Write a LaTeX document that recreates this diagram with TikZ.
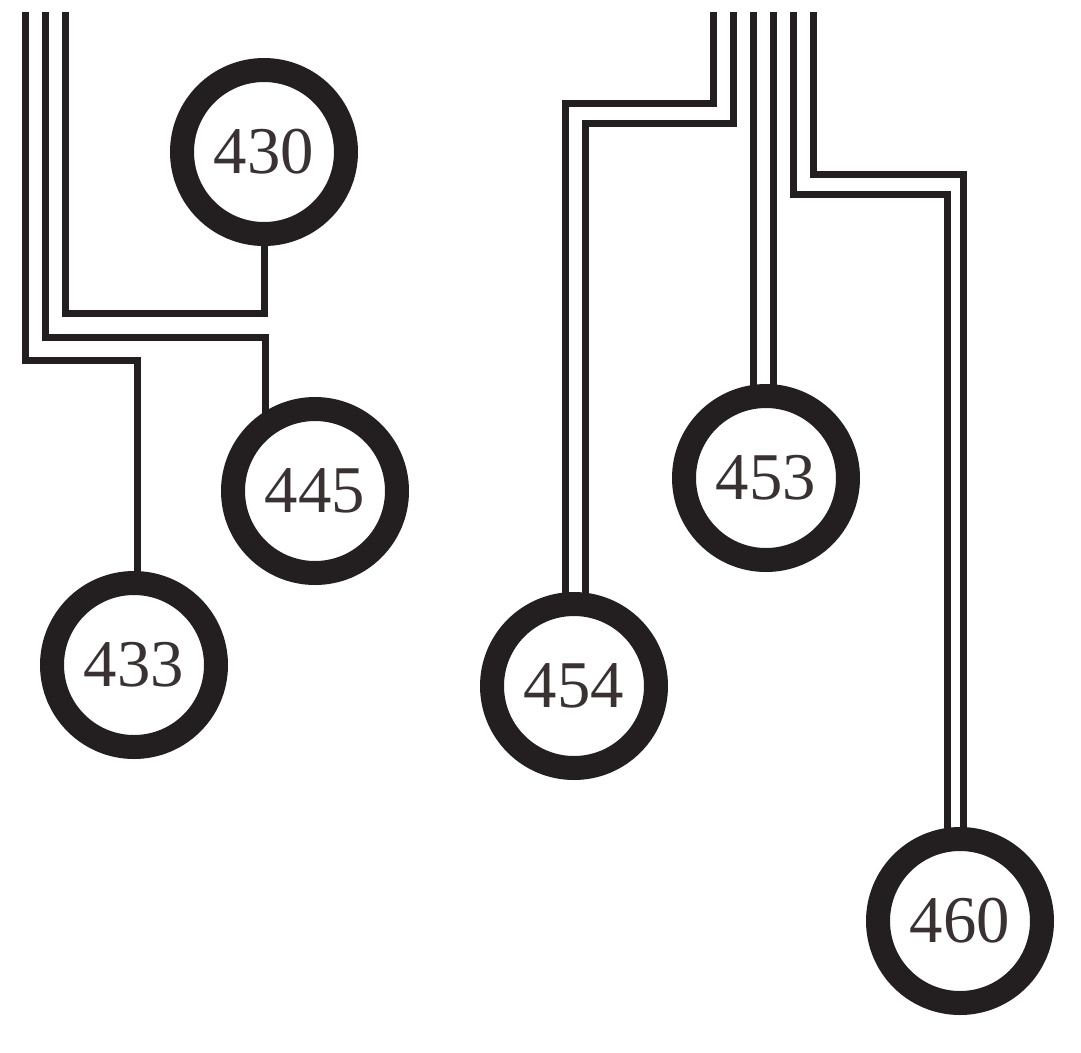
\documentclass[tikz,border=0pt]{standalone}
\usepackage{fontspec}
\setmainfont{Liberation Serif}

\definecolor{ink}{RGB}{35,31,32}
\definecolor{numink}{RGB}{58,50,50}
\pgfdeclarelayer{background}
\pgfsetlayers{background,main}
\tikzset{
  ring/.style={circle, draw=ink, fill=white, line width=2.4mm, minimum size=16.4mm,
    inner sep=0pt, text=numink, font=\fontsize{19}{23}\selectfont},
  wire/.style={draw=ink, line width=0.7mm}
}

\begin{document}
\begin{tikzpicture}[x=0.1mm, y=-0.1mm]
    \useasboundingbox (0,0) rectangle (1081,1052);

    \foreach \n/\x/\y in {430/264/152, 445/315/491, 433/134/665, 453/766/478, 454/574/686, 460/960/921}{
        \node[ring] (c\n) at (\x,\y) {\n};
    }

    % free ends at the top edge
    \foreach \n/\x in {433/25, 445/45, 430/65, 454a/713, 454b/733, 453a/753, 453b/773, 460a/793, 460b/813}{
        \coordinate (t\n) at (\x,12);
    }
    \coordinate (k430) at (264,313);
    \coordinate (k445) at (265,337);
    \coordinate (k433) at (137,360);
    \coordinate (k454a) at (565,103);
    \coordinate (k454b) at (585,123);
    \coordinate (k460a) at (947,194);
    \coordinate (k460b) at (963,174);

    \begin{pgfonlayer}{background}
        \draw[wire] (t430) |- (k430) -- (k430 |- c430);
        \draw[wire] (t445) |- (k445) -- (k445 |- c445);
        \draw[wire] (t433) |- (k433) -- (k433 |- c433);
        \draw[wire] (t454a) |- (k454a) -- (k454a |- c454);
        \draw[wire] (t454b) |- (k454b) -- (k454b |- c454);
        \draw[wire] (t453a) -- (t453a |- c453);
        \draw[wire] (t453b) -- (t453b |- c453);
        \draw[wire] (t460a) |- (k460a) -- (k460a |- c460);
        \draw[wire] (t460b) |- (k460b) -- (k460b |- c460);
    \end{pgfonlayer}
\end{tikzpicture}
\end{document}
